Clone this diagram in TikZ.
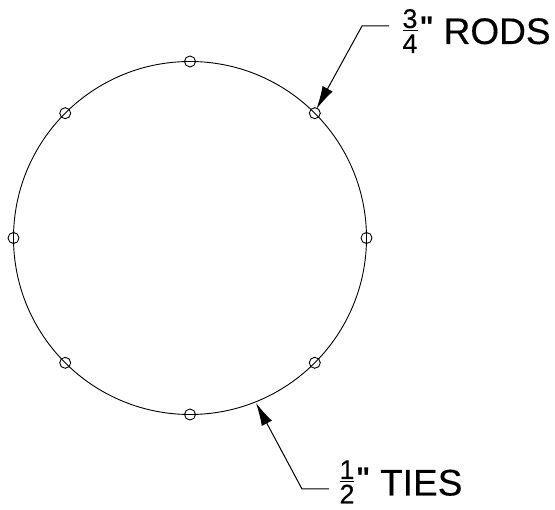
\documentclass[tikz,border=0pt]{standalone}
\usepackage{fontspec}
\setmainfont{Liberation Sans}[FakeBold=0.25]
\newfontfamily\qfont{Liberation Sans Bold}
\usetikzlibrary{arrows.meta}
\tikzset{
  x=1pt,y=-1pt,
  rod/.style={circle,draw,line width=0.9pt,minimum size=11pt,inner sep=0pt},
  lead/.style={line width=1pt,-{Latex[length=23pt,width=11.5pt]}},
  big/.style={inner sep=0pt,anchor=base west,font=\fontsize{37}{37}\selectfont},
  num/.style={inner sep=0pt,anchor=base,font=\fontsize{27}{27}\selectfont},
  quot/.style={inner sep=0pt,anchor=base west,font=\qfont\fontsize{30}{30}\selectfont}
}
\begin{document}
\begin{tikzpicture}
\useasboundingbox (0,0) rectangle (555,510);
\coordinate (c) at (190,238);
\draw[line width=0.9pt] (c) circle[radius=176.5];
\node[rod] (r0) at (366.5,238) {};
\node[rod] (r1) at (314.8,113.2) {};
\node[rod] (r2) at (190,61.5) {};
\node[rod] (r3) at (65.2,113.2) {};
\node[rod] (r4) at (13.5,238) {};
\node[rod] (r5) at (65.2,362.8) {};
\node[rod] (r6) at (190,414.5) {};
\node[rod] (r7) at (314.8,362.8) {};
% top label
\node[num] (n1) at (410,28) {3};
\node[num] (d1) at (410,53) {4};
\draw[line width=1pt] (402.5,30.5) -- (417.5,30.5);
\node[quot] (q1) at (419.5,38) {"};
\node[big] (t1) at (443.5,44) {RODS};
\coordinate (a1) at (389,26);
\coordinate (e1) at (362,26);
\coordinate (p1) at (316.5,109);
\draw[lead] (a1) -- (e1) -- (p1);
% bottom label
\node[num] (n2) at (347,479) {1};
\node[num] (d2) at (347,503.5) {2};
\draw[line width=1pt] (340,481.5) -- (354,481.5);
\node[quot] (q2) at (356,489) {"};
\node[big] (t2) at (380,495.5) {TIES};
\coordinate (a2) at (329,489);
\coordinate (e2) at (302,489);
\coordinate (p2) at (256,403);
\draw[lead] (a2) -- (e2) -- (p2);
\end{tikzpicture}
\end{document}
